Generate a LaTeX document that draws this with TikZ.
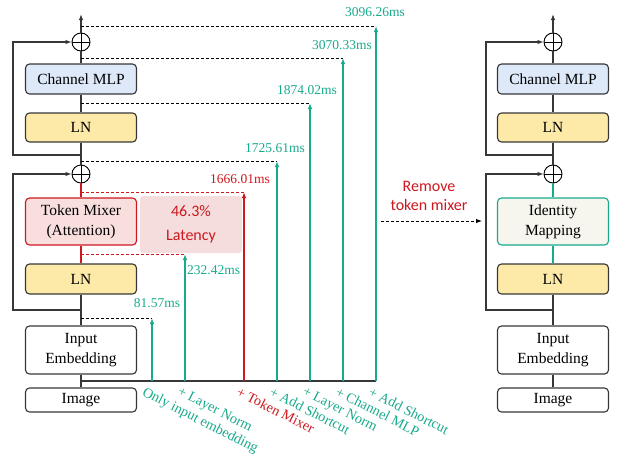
\documentclass[tikz,border=0pt]{standalone}
\usepackage{fontspec}
\setmainfont{Liberation Serif}
\newfontfamily\carlito{Carlito}
\usetikzlibrary{arrows.meta}
\definecolor{gr}{RGB}{24,170,140}
\definecolor{rd}{RGB}{204,24,30}
\definecolor{bgray}{RGB}{55,55,55}
\definecolor{mlpfill}{RGB}{221,232,248}
\definecolor{lnfill}{RGB}{253,233,168}
\definecolor{tmfill}{RGB}{249,222,222}
\definecolor{latfill}{RGB}{245,221,221}
\definecolor{idfill}{RGB}{246,246,238}
\begin{document}
\begin{tikzpicture}[x=1pt,y=-1pt,
  box/.style={draw=bgray, rounded corners=4pt, line width=1.1pt, minimum width=111pt,
    font=\fontsize{15.5}{18}\selectfont, inner sep=0pt, align=center},
  circ/.style={circle, draw=black, line width=0.9pt, minimum size=18pt, inner sep=0pt,
    path picture={\draw[line width=0.9pt] (path picture bounding box.north) -- (path picture bounding box.south)
      (path picture bounding box.west) -- (path picture bounding box.east);}},
  ln/.style={draw=bgray, line width=1.1pt},
  arr/.style={ln, -{Latex[length=6pt,width=4.5pt]}},
  dline/.style={draw=black, line width=0.9pt, dash pattern=on 3pt off 2pt},
  rdline/.style={draw=rd, line width=0.9pt, dash pattern=on 3pt off 2pt},
  garr/.style={draw=gr, line width=1.2pt, -{Latex[length=6pt,width=4.5pt]}},
  rarr/.style={draw=rd, line width=1.2pt, -{Latex[length=6pt,width=4.5pt]}},
  val/.style={text=gr, font=\fontsize{13.5}{15}\selectfont, inner sep=0pt},
  rot/.style={font=\fontsize{14.2}{15}\selectfont, inner sep=0pt, rotate=-27, anchor=north west},
]
\useasboundingbox (0,0) rectangle (634,455);

% ---------------- left column ----------------
\node[circ] (c1) at (81,42) {};
\node[circ] (c2) at (81,174) {};
\node[box, fill=mlpfill, minimum height=30pt] (mlp) at (81,79) {Channel MLP};
\node[box, fill=lnfill, minimum height=29pt] (ln1) at (81,127.5) {LN};
\node[box, draw=rd, fill=tmfill, minimum height=47pt, font=\fontsize{15.5}{20}\selectfont] (tm) at (81,221.5) {Token Mixer\\(Attention)};
\node[box, fill=lnfill, minimum height=30pt] (ln2) at (81,279) {LN};
\node[box, minimum height=48pt, font=\fontsize{15.5}{20}\selectfont] (ie) at (81,350) {Input\\Embedding};
\node[box, minimum height=24pt] (img) at (81,400) {Image};
\node[fill=latfill, rounded corners=3pt, minimum width=102pt, minimum height=57pt, inner sep=0pt,
  align=center, text=rd, font=\carlito\fontsize{16}{24}\selectfont] (lat) at (191,224.5) {46.3\%\\Latency};

\coordinate (top1) at (81,14);
\draw[arr] (c1.north) -- (top1);
\draw[ln] (mlp.north) -- (c1.south);
\draw[ln] (ln1.north) -- (mlp.south);
\draw[ln] (c2.north) -- (ln1.south);
\draw[draw=rd, line width=1.1pt] (tm.north) -- (c2.south);
\draw[draw=rd, line width=1.1pt] (ln2.north) -- (tm.south);
\draw[ln] (ie.north) -- (ln2.south);
\draw[ln] (img.north) -- (ie.south);
\coordinate (s1) at (81,155);
\coordinate (s2) at (81,310);
\draw[arr] (s1) -- (13,155) |- (c1.west);
\draw[arr] (s2) -- (13,310) |- (c2.west);

% measurement lines
\coordinate (base0) at (81,381);
\coordinate (base7) at (376,381);
\draw[draw=bgray, line width=1.3pt] (base0) -- (base7);

\coordinate (b1) at (152,381); \coordinate (t1) at (152,318); \coordinate (d1) at (81,318);
\coordinate (b2) at (185,381); \coordinate (t2) at (185,254); \coordinate (d2) at (81,254);
\coordinate (b3) at (244,381); \coordinate (t3) at (244,192); \coordinate (d3) at (81,192);
\coordinate (b4) at (277,381); \coordinate (t4) at (277,161); \coordinate (d4) at (81,161);
\coordinate (b5) at (310,381); \coordinate (t5) at (310,103); \coordinate (d5) at (81,103);
\coordinate (b6) at (343,381); \coordinate (t6) at (343,58);  \coordinate (d6) at (81,58);
\coordinate (b7) at (376,381); \coordinate (t7) at (376,26);  \coordinate (d7) at (81,26);

\draw[dline] (d1) -- (t1);
\draw[rdline] (d2) -- (t2);
\draw[rdline] (d3) -- (t3);
\draw[dline] (d4) -- (t4);
\draw[dline] (d5) -- (t5);
\draw[dline] (d6) -- (t6);
\draw[dline] (d7) -- (t7);

\draw[garr] (b1) -- (t1);
\draw[garr] (b2) -- (t2);
\draw[rarr] (b3) -- (t3);
\draw[garr] (b4) -- (t4);
\draw[garr] (b5) -- (t5);
\draw[garr] (b6) -- (t6);
\draw[garr] (b7) -- (t7);

\node[val] (v1) at (157,303) {81.57ms};
\node[val, anchor=west] (v2) at (187,270) {232.42ms};
\node[val, text=rd] (v3) at (240,179) {1666.01ms};
\node[val] (v4) at (275,148) {1725.61ms};
\node[val] (v5) at (307,90) {1874.02ms};
\node[val] (v6) at (342,45) {3070.33ms};
\node[val] (v7) at (375,12) {3096.26ms};

\node[rot, text=gr] (r1) at (146,386) {Only input embedding};
\node[rot, text=gr] (r2) at (181,386) {+ Layer Norm};
\node[rot, text=rd] (r3) at (240,386) {+ Token Mixer};
\node[rot, text=gr] (r4) at (273,386) {+ Add Shortcut};
\node[rot, text=gr] (r5) at (306,386) {+ Layer Norm};
\node[rot, text=gr] (r6) at (339,386) {+ Channel MLP};
\node[rot, text=gr] (r7) at (372,386) {+ Add Shortcut};

% ---------------- remove arrow ----------------
\node[text=rd, align=center, inner sep=0pt, font=\carlito\fontsize{16}{19}\selectfont] (rm) at (429,196) {Remove\\token mixer};
\coordinate (ra) at (381,221);
\coordinate (rb) at (482,221);
\draw[dline, -{Latex[length=6pt,width=4.5pt]}] (ra) -- (rb);

% ---------------- right column ----------------
\node[circ] (rc1) at (553,42) {};
\node[circ] (rc2) at (553,174) {};
\node[box, fill=mlpfill, minimum height=30pt] (rmlp) at (553,79) {Channel MLP};
\node[box, fill=lnfill, minimum height=29pt] (rln1) at (553,127.5) {LN};
\node[box, draw=gr, fill=idfill, minimum height=47pt, font=\fontsize{15.5}{20}\selectfont] (rid) at (553,221.5) {Identity\\Mapping};
\node[box, fill=lnfill, minimum height=30pt] (rln2) at (553,279) {LN};
\node[box, minimum height=48pt, font=\fontsize{15.5}{20}\selectfont] (rie) at (553,350) {Input\\Embedding};
\node[box, minimum height=24pt] (rimg) at (553,400) {Image};

\coordinate (rtop) at (553,14);
\draw[arr] (rc1.north) -- (rtop);
\draw[ln] (rmlp.north) -- (rc1.south);
\draw[ln] (rln1.north) -- (rmlp.south);
\draw[ln] (rc2.north) -- (rln1.south);
\draw[draw=gr, line width=1.1pt] (rid.north) -- (rc2.south);
\draw[draw=gr, line width=1.1pt] (rln2.north) -- (rid.south);
\draw[ln] (rie.north) -- (rln2.south);
\draw[ln] (rimg.north) -- (rie.south);
\coordinate (rs1) at (553,155);
\coordinate (rs2) at (553,310);
\draw[arr] (rs1) -- (486,155) |- (rc1.west);
\draw[arr] (rs2) -- (486,310) |- (rc2.west);
\end{tikzpicture}
\end{document}
